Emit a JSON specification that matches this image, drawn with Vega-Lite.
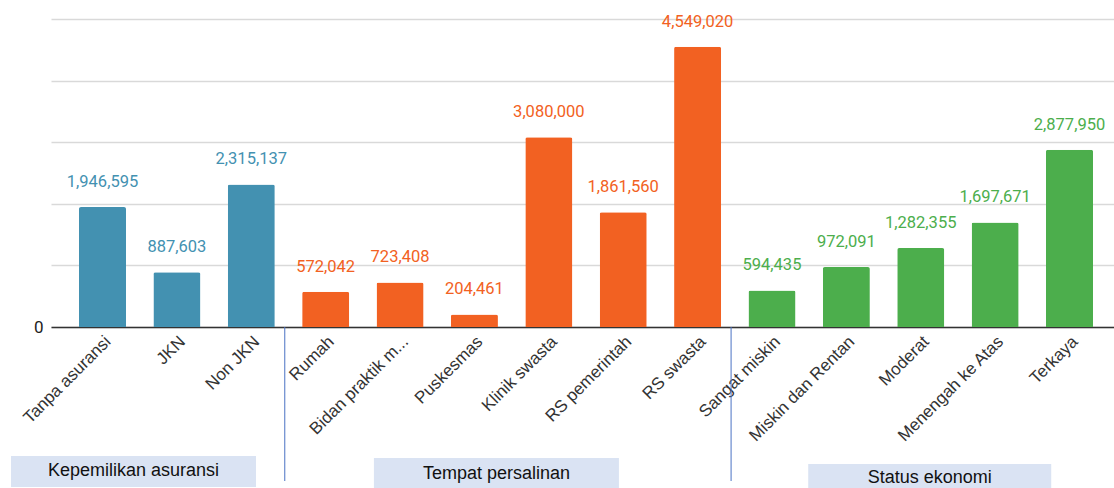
{
  "$schema": "https://vega.github.io/schema/vega-lite/v6.json",
  "width": 1064,
  "height": 308,
  "padding": {"left": 10, "top": 13, "right": 0, "bottom": 0},
  "background": "white",
  "config": {"view": {"stroke": null}},
  "datasets": {
    "bars": [
      {"kategori": "Tanpa asuransi", "nilai": 1946595, "kelompok": "Kepemilikan asuransi"},
      {"kategori": "JKN", "nilai": 887603, "kelompok": "Kepemilikan asuransi"},
      {"kategori": "Non JKN", "nilai": 2315137, "kelompok": "Kepemilikan asuransi"},
      {"kategori": "Rumah", "nilai": 572042, "kelompok": "Tempat persalinan"},
      {"kategori": "Bidan praktik m...", "nilai": 723408, "kelompok": "Tempat persalinan"},
      {"kategori": "Puskesmas", "nilai": 204461, "kelompok": "Tempat persalinan"},
      {"kategori": "Klinik swasta", "nilai": 3080000, "kelompok": "Tempat persalinan"},
      {"kategori": "RS pemerintah", "nilai": 1861560, "kelompok": "Tempat persalinan"},
      {"kategori": "RS swasta", "nilai": 4549020, "kelompok": "Tempat persalinan"},
      {"kategori": "Sangat miskin", "nilai": 594435, "kelompok": "Status ekonomi"},
      {"kategori": "Miskin dan Rentan", "nilai": 972091, "kelompok": "Status ekonomi"},
      {"kategori": "Moderat", "nilai": 1282355, "kelompok": "Status ekonomi"},
      {"kategori": "Menengah ke Atas", "nilai": 1697671, "kelompok": "Status ekonomi"},
      {"kategori": "Terkaya", "nilai": 2877950, "kelompok": "Status ekonomi"}
    ],
    "separators": [
      {"setelah": "Non JKN"},
      {"setelah": "RS swasta"}
    ],
    "groups": [
      {"kelompok": "Kepemilikan asuransi", "anchor": "Tanpa asuransi"},
      {"kelompok": "Tempat persalinan", "anchor": "Puskesmas"},
      {"kelompok": "Status ekonomi", "anchor": "Moderat"}
    ]
  },
  "layer": [
    {
      "data": {"name": "bars"},
      "mark": {"type": "bar", "cornerRadiusTopLeft": 2, "cornerRadiusTopRight": 2},
      "encoding": {
        "x": {
          "field": "kategori", "type": "nominal", "sort": null,
          "scale": {"paddingInner": 0.368, "paddingOuter": 0.336, "align": 0.56},
          "axis": {
            "title": null, "labelAngle": -45, "labelFont": "Liberation Sans", "labelFontSize": 17,
            "labelColor": "#333333", "ticks": false, "labelPadding": 6,
            "domainColor": "#333333", "domainWidth": 1.5, "labelLimit": 250
          }
        },
        "y": {
          "field": "nilai", "type": "quantitative",
          "scale": {"domain": [0, 5000000], "nice": false},
          "axis": {
            "title": null, "values": [0, 1000000, 2000000, 3000000, 4000000, 5000000],
            "labelExpr": "datum.value == 0 ? '0' : ''", "domain": false, "ticks": false,
            "gridColor": "#d9d9d9", "gridWidth": 1.5, "labelFont": "Roboto", "labelFontSize": 17,
            "labelColor": "#222222", "labelPadding": 8
          }
        },
        "color": {
          "field": "kelompok", "type": "nominal", "legend": null,
          "scale": {"domain": ["Kepemilikan asuransi", "Tempat persalinan", "Status ekonomi"], "range": ["#4391b1", "#f26122", "#4cae4c"]}
        }
      }
    },
    {
      "data": {"name": "bars"},
      "mark": {"type": "text", "font": "Roboto", "fontSize": 16.5, "baseline": "alphabetic", "dy": -20},
      "encoding": {
        "x": {"field": "kategori", "type": "nominal", "sort": null},
        "y": {"field": "nilai", "type": "quantitative"},
        "text": {"field": "nilai", "type": "quantitative", "format": ","},
        "color": {"field": "kelompok", "type": "nominal", "legend": null}
      }
    },
    {
      "data": {"name": "separators"},
      "mark": {"type": "rule", "color": "#4a72c4", "strokeWidth": 1, "xOffset": 10},
      "encoding": {
        "x": {"field": "setelah", "type": "nominal", "sort": null, "bandPosition": 1},
        "y": {"datum": 0},
        "y2": {"datum": -2500000}
      }
    },
    {
      "data": {"name": "groups"},
      "transform": [{"filter": "datum.kelompok == 'Kepemilikan asuransi'"}],
      "mark": {"type": "rect", "color": "#dae3f3", "width": 245, "xOffset": 31},
      "encoding": {
        "x": {"field": "anchor", "type": "nominal", "sort": null},
        "y": {"datum": -2094000},
        "y2": {"datum": -2597000}
      }
    },
    {
      "data": {"name": "groups"},
      "transform": [{"filter": "datum.kelompok == 'Kepemilikan asuransi'"}],
      "mark": {"type": "text", "font": "Liberation Sans", "fontSize": 18, "color": "#111111", "baseline": "middle", "align": "center", "xOffset": 31},
      "encoding": {
        "x": {"field": "anchor", "type": "nominal", "sort": null},
        "y": {"datum": -2330000},
        "text": {"field": "kelompok", "type": "nominal"}
      }
    },
    {
      "data": {"name": "groups"},
      "transform": [{"filter": "datum.kelompok == 'Tempat persalinan'"}],
      "mark": {"type": "rect", "color": "#dae3f3", "width": 245, "xOffset": 22},
      "encoding": {
        "x": {"field": "anchor", "type": "nominal", "sort": null},
        "y": {"datum": -2127000},
        "y2": {"datum": -2630000}
      }
    },
    {
      "data": {"name": "groups"},
      "transform": [{"filter": "datum.kelompok == 'Tempat persalinan'"}],
      "mark": {"type": "text", "font": "Liberation Sans", "fontSize": 18, "color": "#111111", "baseline": "middle", "align": "center", "xOffset": 22},
      "encoding": {
        "x": {"field": "anchor", "type": "nominal", "sort": null},
        "y": {"datum": -2390000},
        "text": {"field": "kelompok", "type": "nominal"}
      }
    },
    {
      "data": {"name": "groups"},
      "transform": [{"filter": "datum.kelompok == 'Status ekonomi'"}],
      "mark": {"type": "rect", "color": "#dae3f3", "width": 243, "xOffset": 9},
      "encoding": {
        "x": {"field": "anchor", "type": "nominal", "sort": null},
        "y": {"datum": -2224000},
        "y2": {"datum": -2630000}
      }
    },
    {
      "data": {"name": "groups"},
      "transform": [{"filter": "datum.kelompok == 'Status ekonomi'"}],
      "mark": {"type": "text", "font": "Liberation Sans", "fontSize": 18, "color": "#111111", "baseline": "middle", "align": "center", "xOffset": 9},
      "encoding": {
        "x": {"field": "anchor", "type": "nominal", "sort": null},
        "y": {"datum": -2450000},
        "text": {"field": "kelompok", "type": "nominal"}
      }
    }
  ]
}
